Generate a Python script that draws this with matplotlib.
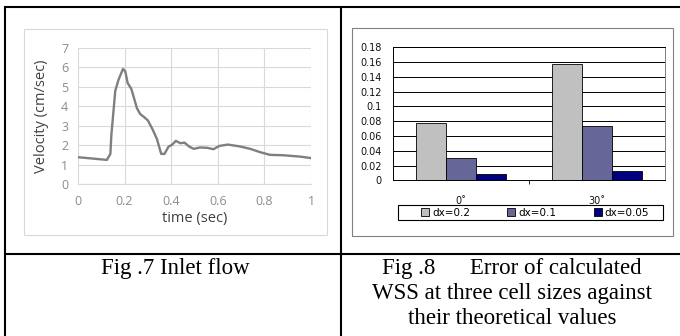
import matplotlib
matplotlib.use("Agg")
import matplotlib.pyplot as plt
from matplotlib.lines import Line2D
from matplotlib.patches import Rectangle, Patch

W, H = 680, 336

# Fig .7 inlet flow
time_sec = [0.0, 0.124, 0.139, 0.143, 0.16, 0.174, 0.193, 0.203, 0.213, 0.229,
            0.253, 0.267, 0.284, 0.3, 0.321, 0.339, 0.357, 0.371, 0.389, 0.403,
            0.42, 0.439, 0.457, 0.477, 0.496, 0.524, 0.556, 0.581, 0.607, 0.643,
            0.696, 0.739, 0.781, 0.824, 0.881, 0.953, 0.996]
velocity = [1.38, 1.24, 1.55, 2.5, 4.8, 5.37, 5.92, 5.8, 5.2, 4.89,
            3.9, 3.6, 3.44, 3.27, 2.79, 2.31, 1.55, 1.55, 1.93, 2.01,
            2.22, 2.1, 2.13, 1.93, 1.81, 1.88, 1.86, 1.79, 1.96, 2.03,
            1.93, 1.81, 1.64, 1.5, 1.48, 1.41, 1.34]
vel_xticks = ['0', '0.2', '0.4', '0.6', '0.8', '1']

# Fig .8 WSS error
angles = ['0˚', '30˚']
cell_sizes = ['dx=0.2', 'dx=0.1', 'dx=0.05']
err_dx02 = [0.077, 0.157]
err_dx01 = [0.030, 0.073]
err_dx005 = [0.009, 0.012]
err_yticks = ['0', '0.02', '0.04', '0.06', '0.08', '0.1', '0.12', '0.14', '0.16', '0.18']


def rect(x0, y0, x1, y1):
    # pixel box -> figure coords
    return [x0 / W, 1 - y1 / H, (x1 - x0) / W, (y1 - y0) / H]


def hline(y, x0, x1, **kw):
    fig.add_artist(Line2D([x0 / W, x1 / W], [1 - y / H, 1 - y / H], **kw))


def vline(x, y0, y1, **kw):
    fig.add_artist(Line2D([x / W, x / W], [1 - y0 / H, 1 - y1 / H], **kw))


fig = plt.figure(figsize=(6.8, 3.36), dpi=100)

# table lines
tbl = dict(color='black', lw=1.5, solid_capstyle='butt')
hline(7, 4, 680, **tbl)
hline(254, 4, 680, **tbl)
vline(5, 6, 336, **tbl)
vline(341, 6, 336, **tbl)

# chart frames
fig.add_artist(Rectangle((24 / W, 1 - 235 / H), 303 / W, 206 / H, fill=False,
                         ec='#d9d9d9', lw=0.8, transform=fig.transFigure))
fig.add_artist(Rectangle((352 / W, 1 - 236 / H), 321 / W, 208 / H, fill=False,
                         ec='#808080', lw=0.8, transform=fig.transFigure))

# ---- left chart: inlet flow
ax1 = fig.add_axes(rect(78, 48, 311, 184))
ax1.plot(time_sec, velocity, color='#7f7f7f', lw=1.7)
ax1.set_xlim(0, 1)
ax1.set_ylim(0, 7)
ax1.set_xticks([0, 0.2, 0.4, 0.6, 0.8, 1])
ax1.set_xticklabels(vel_xticks)
ax1.set_yticks(range(8))
ax1.grid(True, color='#d9d9d9', lw=0.8)
ax1.set_axisbelow(True)
for s in ax1.spines.values():
    s.set_visible(False)
ax1.spines['bottom'].set_visible(True)
ax1.spines['bottom'].set_color('#d9d9d9')
ax1.tick_params(length=0, labelsize=9, labelcolor='#8c8c8c')
ax1.tick_params(axis='x', pad=8)
ax1.tick_params(axis='y', pad=7)
for t in ax1.get_xticklabels() + ax1.get_yticklabels():
    t.set_family('Open Sans')
ax1.set_xlabel('time (sec)', fontsize=10.5, color='#404040', family='Open Sans', labelpad=2)
ax1.set_ylabel('Velocity (cm/sec)', fontsize=10.5, color='#404040', family='Open Sans', labelpad=9)

# ---- right chart: error bars
ax2 = fig.add_axes(rect(392.7, 47.3, 665, 180.3))
x = [0, 1]
bw = 0.22
ax2.bar([i - bw for i in x], err_dx02, bw, color='#c0c0c0', ec='black', lw=0.6, zorder=3)
ax2.bar(x, err_dx01, bw, color='#666699', ec='black', lw=0.6, zorder=3)
ax2.bar([i + bw for i in x], err_dx005, bw, color='#000080', ec='black', lw=0.6, zorder=3)
ax2.set_xlim(-0.5, 1.5)
ax2.set_ylim(0, 0.18)
ax2.set_yticks([i * 0.02 for i in range(10)])
ax2.set_yticklabels(err_yticks)
ax2.yaxis.grid(True, color='black', lw=0.7)
ax2.set_axisbelow(True)
ax2.set_xticks(x)
ax2.set_xticklabels(angles)
ax2.set_xticks([0.5], minor=True)
ax2.tick_params(axis='x', which='major', length=0, pad=11)
ax2.tick_params(axis='x', which='minor', length=3, width=0.6, direction='out')
ax2.tick_params(axis='y', length=0, pad=8)
ax2.tick_params(labelsize=7, labelcolor='#111111')
for t in ax2.get_xticklabels() + ax2.get_yticklabels():
    t.set_family('DejaVu Sans')
ax2.spines['left'].set_color('black')
ax2.spines['bottom'].set_color('black')
ax2.spines['top'].set_color('black')
ax2.spines['right'].set_color('#808080')
for s in ax2.spines.values():
    s.set_linewidth(0.7)

# legend: frame drawn separately so entries sit like the original
fig.add_artist(Rectangle((398 / W, 1 - 220 / H), 265 / W, 15 / H, fill=False,
                         ec='black', lw=0.8, transform=fig.transFigure))
handles = [Patch(fc=c, ec='black', lw=0.6) for c in ['#c0c0c0', '#666699', '#000080']]
leg = ax2.legend(handles, cell_sizes, ncol=3, loc='center left',
                 bbox_to_anchor=(421 / W, 1 - 212.5 / H),
                 bbox_transform=fig.transFigure, fontsize=7.5, frameon=False,
                 handlelength=0.75, handleheight=0.75, handletextpad=0.3,
                 columnspacing=3.6, borderpad=0, borderaxespad=0)

# captions
cap = dict(family='Liberation Serif', fontsize=16.5, ha='center', va='baseline', color='black')
fig.text(175 / W, 1 - 274 / H, 'Fig .7 Inlet flow', **cap)
fig.text(512 / W, 1 - 274 / H, 'Fig .8      Error of calculated', **cap)
fig.text(512 / W, 1 - 299 / H, 'WSS at three cell sizes against', **cap)
fig.text(512 / W, 1 - 324 / H, 'their theoretical values', **cap)

fig.savefig('out.png', dpi=100)
